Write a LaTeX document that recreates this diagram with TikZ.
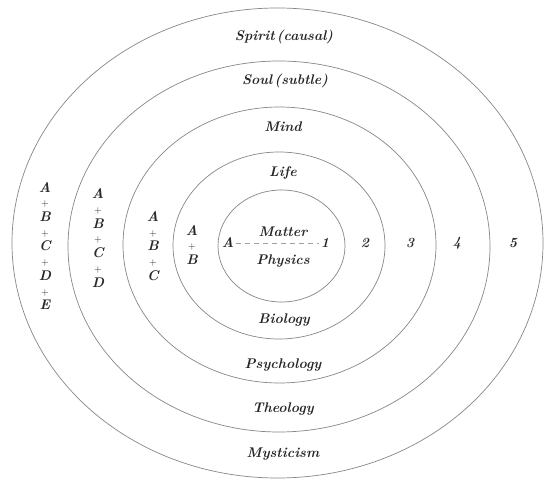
\documentclass[tikz,border=0pt]{standalone}
\usepackage{tikz}
\usetikzlibrary{positioning}
\definecolor{ringgray}{RGB}{135,135,135}
\definecolor{inkdark}{RGB}{40,40,40}
\newcommand{\plusmark}{{\fontsize{10}{10}\selectfont\mdseries\upshape +}}

\tikzset{
  ring/.style={draw=ringgray,line width=0.7pt},
  lvl/.style={inner sep=0pt,text=inkdark,font=\fontsize{14}{16}\selectfont\bfseries\itshape},
  stack/.style={lvl,align=center,font=\fontsize{14}{14.7}\selectfont\bfseries\itshape}
}

\begin{document}
\begin{tikzpicture}[x=1pt,y=-1pt]
    \useasboundingbox (0,0) rectangle (546,481);
    \fill[white] (0,0) rectangle (546,481);
    % the five shells, inner to outer
    \foreach \cx/\cy/\rx/\ry in {281.5/246/63.5/56, 279/245.5/106/93.5, 279.5/245/156.5/138,
                                 279/246.5/211/185.5, 277.5/243/265.5/235}
      \draw[ring] (\cx,\cy) ellipse [x radius=\rx, y radius=\ry];
    % levels of being (top) and their sciences (bottom)
    \node[lvl] (spirit) at (284,37)  {Spirit\,(causal)};
    \node[lvl] (soul)   at (285,81)  {Soul\,(subtle)};
    \node[lvl] (mind)   at (283,127) {Mind};
    \node[lvl] (life)   at (283,173) {Life};
    \node[lvl] (matter) at (283,232) {Matter};
    \node[lvl] (phys)   at (283,261) {Physics};
    \node[lvl] (bio)    at (284,320) {Biology};
    \node[lvl] (psych)  at (283,365) {Psychology};
    \node[lvl] (theo)   at (283,409) {Theology};
    \node[lvl] (myst)   at (283,454) {Mysticism};
    % numbered shells along the axis
    \node[lvl] (a)  at (228,243) {A};
    \foreach \n/\x in {1/325,2/365,3/410,4/457,5/513}
      \node[lvl] (n\n) at (\x,243) {\n};
    \draw[ringgray!80,dash pattern=on 5pt off 4pt,line width=0.6pt] ([xshift=2pt]a.east) -- ([xshift=-2pt]n1.west);
    % compound stacks on the left
    \node[stack] (s2) at (192,245) {A\\\plusmark\\B};
    \node[stack] (s3) at (153,246) {A\\\plusmark\\B\\\plusmark\\C};
    \node[stack] (s4) at (98,238)  {A\\\plusmark\\B\\\plusmark\\C\\\plusmark\\D};
    \node[stack] (s5) at (45,246)  {A\\\plusmark\\B\\\plusmark\\C\\\plusmark\\D\\\plusmark\\E};
\end{tikzpicture}
\end{document}
